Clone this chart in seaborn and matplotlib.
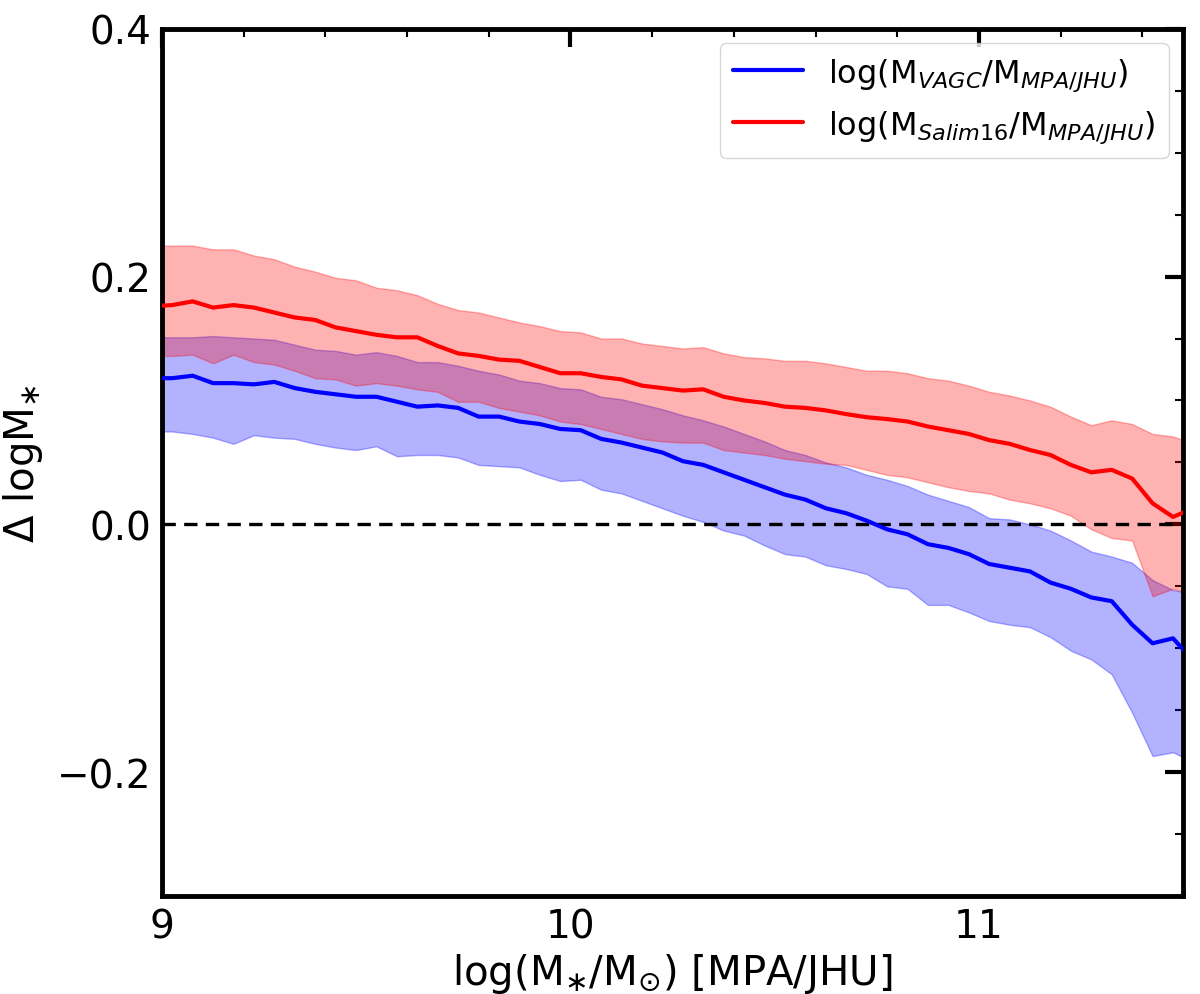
import numpy as np
import pandas as pd
import seaborn as sns
import matplotlib.pyplot as plt
from matplotlib.ticker import MultipleLocator

# bin centres in log(M*/Msun) [MPA/JHU]
mass_bins = [8.975, 9.025, 9.075, 9.125, 9.175, 9.225, 9.275, 9.325, 9.375, 9.425,
             9.475, 9.525, 9.575, 9.625, 9.675, 9.725, 9.775, 9.825, 9.875, 9.925,
             9.975, 10.025, 10.075, 10.125, 10.175, 10.225, 10.275, 10.325, 10.375, 10.425,
             10.475, 10.525, 10.575, 10.625, 10.675, 10.725, 10.775, 10.825, 10.875, 10.925,
             10.975, 11.025, 11.075, 11.125, 11.175, 11.225, 11.275, 11.325, 11.375, 11.425,
             11.475, 11.525]

# log(M_VAGC / M_MPA/JHU): median and 16-84 band
vagc_med = [0.118, 0.118, 0.120, 0.114, 0.114, 0.113, 0.115, 0.110, 0.107, 0.105,
            0.103, 0.103, 0.099, 0.095, 0.096, 0.094, 0.087, 0.087, 0.083, 0.081,
            0.077, 0.076, 0.069, 0.066, 0.062, 0.058, 0.051, 0.048, 0.042, 0.036,
            0.030, 0.024, 0.020, 0.013, 0.009, 0.003, -0.004, -0.008, -0.016, -0.019,
            -0.024, -0.032, -0.035, -0.038, -0.047, -0.052, -0.059, -0.062, -0.081, -0.096,
            -0.092, -0.110]
vagc_hi = [0.151, 0.151, 0.151, 0.152, 0.151, 0.150, 0.149, 0.145, 0.141, 0.140,
           0.137, 0.139, 0.136, 0.131, 0.131, 0.128, 0.124, 0.121, 0.116, 0.114,
           0.110, 0.109, 0.103, 0.101, 0.097, 0.093, 0.088, 0.084, 0.079, 0.073,
           0.067, 0.060, 0.056, 0.050, 0.046, 0.040, 0.036, 0.031, 0.024, 0.019,
           0.014, 0.005, 0.004, 0.000, -0.005, -0.013, -0.022, -0.026, -0.031, -0.045,
           -0.053, -0.056]
vagc_lo = [0.075, 0.075, 0.073, 0.070, 0.065, 0.072, 0.070, 0.069, 0.065, 0.062,
           0.060, 0.063, 0.055, 0.056, 0.056, 0.054, 0.048, 0.047, 0.046, 0.040,
           0.035, 0.036, 0.028, 0.025, 0.019, 0.013, 0.007, 0.002, -0.005, -0.009,
           -0.017, -0.024, -0.026, -0.033, -0.036, -0.040, -0.050, -0.052, -0.065, -0.065,
           -0.071, -0.078, -0.081, -0.083, -0.091, -0.102, -0.109, -0.121, -0.152, -0.187,
           -0.184, -0.192]

# log(M_Salim16 / M_MPA/JHU)
salim_med = [0.176, 0.177, 0.180, 0.175, 0.177, 0.175, 0.171, 0.167, 0.165, 0.159,
             0.156, 0.153, 0.151, 0.151, 0.144, 0.138, 0.136, 0.133, 0.132, 0.127,
             0.122, 0.122, 0.119, 0.117, 0.112, 0.110, 0.108, 0.109, 0.103, 0.100,
             0.098, 0.095, 0.094, 0.092, 0.089, 0.0865, 0.085, 0.083, 0.079, 0.076,
             0.073, 0.068, 0.065, 0.060, 0.056, 0.048, 0.042, 0.044, 0.037, 0.017,
             0.006, 0.013]
salim_hi = [0.225, 0.225, 0.225, 0.222, 0.222, 0.217, 0.214, 0.208, 0.204, 0.199,
            0.197, 0.191, 0.189, 0.185, 0.178, 0.173, 0.171, 0.167, 0.163, 0.160,
            0.156, 0.155, 0.150, 0.150, 0.146, 0.144, 0.142, 0.143, 0.138, 0.135,
            0.134, 0.132, 0.132, 0.130, 0.127, 0.124, 0.124, 0.122, 0.118, 0.116,
            0.112, 0.107, 0.104, 0.100, 0.095, 0.087, 0.080, 0.084, 0.081, 0.073,
            0.071, 0.065]
salim_lo = [0.136, 0.136, 0.137, 0.130, 0.137, 0.131, 0.129, 0.124, 0.118, 0.117,
            0.112, 0.114, 0.112, 0.109, 0.107, 0.099, 0.099, 0.094, 0.091, 0.088,
            0.083, 0.081, 0.077, 0.073, 0.069, 0.067, 0.066, 0.066, 0.060, 0.058,
            0.056, 0.053, 0.051, 0.049, 0.048, 0.044, 0.040, 0.038, 0.034, 0.030,
            0.027, 0.025, 0.020, 0.017, 0.013, 0.007, -0.004, -0.011, -0.013, -0.058,
            -0.052, -0.057]

lab_vagc = r'log(M$_{VAGC}$/M$_{MPA/JHU}$)'
lab_salim = r'log(M$_{Salim16}$/M$_{MPA/JHU}$)'

df = pd.DataFrame({
    'mass': mass_bins * 2,
    'dm': vagc_med + salim_med,
    'sample': [lab_vagc] * len(mass_bins) + [lab_salim] * len(mass_bins),
})

sns.set_style('white')
plt.rcParams['mathtext.default'] = 'it'
plt.rcParams['font.family'] = ['DejaVu Sans']
plt.rcParams['text.color'] = 'black'
plt.rcParams['axes.labelcolor'] = 'black'
plt.rcParams['xtick.color'] = 'black'
plt.rcParams['ytick.color'] = 'black'

fig = plt.figure(figsize=(12, 9.95), dpi=100)
ax = fig.add_axes([0.135, 0.0985, 0.851, 0.8715])

ax.fill_between(mass_bins, vagc_lo, vagc_hi, color='blue', alpha=0.3, lw=1)
ax.fill_between(mass_bins, salim_lo, salim_hi, color='red', alpha=0.3, lw=1)

sns.lineplot(data=df, x='mass', y='dm', hue='sample', palette=['blue', 'red'],
             lw=3, sort=False, ax=ax, zorder=5)
ax.axhline(0, color='black', ls='--', lw=2.4, dashes=(4, 2.5), zorder=4)

ax.set_xlim(9, 11.5)
ax.set_ylim(-0.3, 0.4)
ax.xaxis.set_major_locator(MultipleLocator(1))
ax.xaxis.set_minor_locator(MultipleLocator(0.2))
ax.yaxis.set_major_locator(MultipleLocator(0.2))
ax.yaxis.set_minor_locator(MultipleLocator(0.05))
ax.tick_params(which='major', direction='in', length=13, width=3, labelsize=28,
               top=True, right=True, pad=8, colors='black')
ax.tick_params(which='minor', direction='in', length=6, width=1.5,
               top=True, right=True, colors='black')
for sp in ax.spines.values():
    sp.set_linewidth(3.5)
    sp.set_color('black')

ax.set_xlabel(r'log(M$_{\ast}$/M$_{\odot}$) [MPA/JHU]', fontsize=29,
              color='black', labelpad=4)
ax.set_ylabel(r'$\Delta$ logM$_{\ast}$', fontsize=29, color='black', labelpad=8)

handles, labels = ax.get_legend_handles_labels()
leg = ax.legend(handles, labels, loc='upper right', fontsize=23, frameon=True,
                borderaxespad=0.45, handlelength=2.2)
for t in leg.get_texts():
    t.set_color('black')

fig.savefig('out.png', dpi=100)
